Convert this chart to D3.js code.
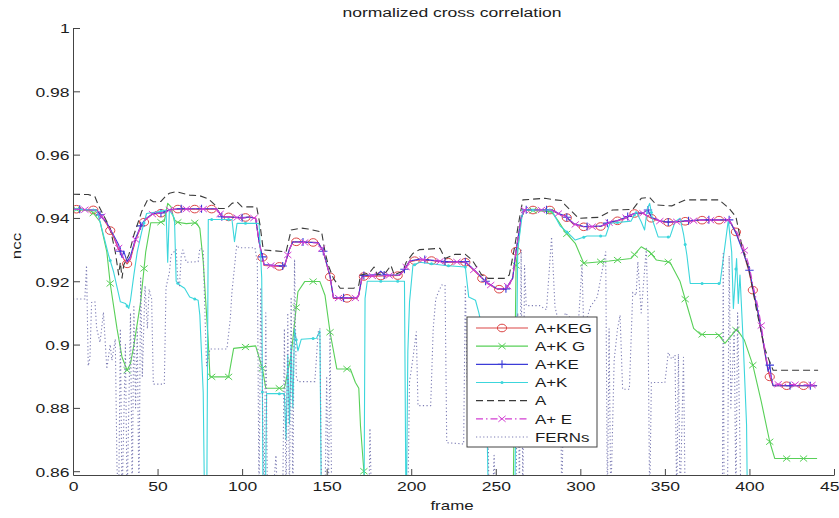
<!DOCTYPE html>
<html>
<head>
<meta charset="utf-8">
<script src="https://cdn.jsdelivr.net/npm/d3@7"></script>
<style>
  html, body { margin: 0; padding: 0; background: #fff; }
  svg { display: block; }
  text { font-family: "Liberation Sans", Arial, Helvetica, sans-serif; fill: #1c1c1c; }
</style>
</head>
<body>
<svg id="chart" width="839" height="518"></svg>
<script>
// ---- data: [frame, ncc] ----
const seriesNames = ["A+KEG", "A+K G", "A+KE", "A+K", "A", "A+ E", "FERNs"];
const xTicks = [0, 50, 100, 150, 200, 250, 300, 350, 400, 450];
const yTicks = [0.86, 0.88, 0.9, 0.92, 0.94, 0.96, 0.98, 1];

const akeg = [[0,0.9428],[14,0.9425],[17,0.9405],[20,0.938],[24,0.934],[27,0.930],[30,0.927],[32,0.9255],[34,0.927],[37,0.933],[40,0.937],[43,0.9395],[47,0.9412],[52,0.9415],[57,0.9425],[62,0.9428],[85,0.9428],[88,0.9405],[100,0.9400],[104,0.9403],[108,0.940],[110,0.9325],[113,0.9250],[125,0.9246],[128,0.930],[130,0.9325],[145,0.9322],[148,0.9293],[152,0.9214],[154,0.9146],[168,0.9146],[169,0.9156],[171,0.9215],[193,0.9218],[196,0.9235],[199,0.9262],[205,0.9268],[213,0.9265],[220,0.926],[232,0.926],[238,0.923],[242,0.9209],[245,0.9193],[251,0.9175],[256,0.9175],[260,0.9209],[262,0.9295],[265,0.9399],[267,0.9425],[283,0.9425],[288,0.941],[291,0.9406],[296,0.938],[302,0.9372],[312,0.9373],[317,0.9385],[322,0.9391],[327,0.940],[332,0.9414],[337,0.9415],[342,0.9399],[347,0.939],[352,0.9386],[372,0.9393],[388,0.9393],[392,0.9356],[396,0.930],[400,0.9225],[402,0.9172],[405,0.910],[407,0.904],[410,0.8946],[412,0.8898],[414,0.887],[440,0.887]];

const akg = [[0,0.9428],[11,0.9422],[16,0.9388],[20,0.9293],[22,0.9193],[26,0.9051],[29,0.896],[32,0.8919],[34,0.894],[36,0.8998],[40,0.9135],[43,0.9293],[46,0.9385],[51,0.9385],[54,0.939],[56,0.9446],[58,0.9435],[60,0.9388],[67,0.9382],[73,0.9385],[75,0.9367],[77,0.9262],[80,0.9009],[81,0.8898],[92,0.8898],[95,0.8988],[108,0.8996],[110,0.896],[112,0.8925],[114,0.8862],[125,0.8862],[129,0.8967],[133,0.9167],[137,0.9199],[146,0.9199],[149,0.9156],[152,0.9039],[156,0.8923],[164,0.8923],[167,0.888],[169,0.8862],[170,0.8743],[172,0.86],[174,0.84],[260,0.84],[262,0.925],[265,0.9399],[267,0.9425],[283,0.942],[287,0.939],[291,0.9356],[297,0.932],[302,0.9257],[317,0.9264],[330,0.9272],[336,0.9309],[341,0.9293],[345,0.9267],[353,0.926],[359,0.9199],[363,0.9125],[367,0.9051],[371,0.9032],[381.6,0.9032],[385.5,0.9004],[392.5,0.9049],[397,0.9014],[402,0.8935],[407,0.882],[412,0.8693],[415,0.864],[440,0.864]];

const ake = [[0,0.9428],[14,0.9425],[17,0.9402],[20,0.9385],[24,0.9345],[27,0.9315],[29,0.9275],[30,0.9295],[32,0.9262],[34,0.928],[37,0.9335],[40,0.9375],[43,0.9398],[47,0.9413],[52,0.9416],[57,0.9426],[62,0.9429],[85,0.9429],[88,0.9404],[100,0.9401],[104,0.9403],[108,0.9398],[110,0.9325],[113,0.9253],[125,0.9248],[128,0.9302],[130,0.9325],[145,0.9322],[148,0.9295],[152,0.9216],[154,0.9148],[168,0.9148],[169,0.9158],[171,0.9218],[180,0.9221],[182,0.9232],[184,0.922],[193,0.922],[196,0.9238],[199,0.9264],[205,0.927],[213,0.9266],[220,0.9262],[232,0.9262],[238,0.9232],[242,0.921],[245,0.9195],[251,0.9176],[256,0.9176],[260,0.921],[262,0.9297],[265,0.94],[267,0.9426],[283,0.9426],[288,0.9412],[291,0.9407],[296,0.9382],[302,0.9373],[312,0.9374],[317,0.9386],[322,0.9392],[327,0.9402],[332,0.9415],[337,0.9416],[340,0.9425],[342,0.9402],[347,0.9391],[352,0.9387],[372,0.9394],[388,0.9394],[392,0.9352],[396,0.9296],[400,0.9235],[402,0.918],[405,0.9105],[407,0.9045],[410,0.895],[411,0.8915],[412,0.8935],[413,0.8895],[414,0.887],[440,0.887]];

const ak = [[0,0.9428],[14,0.9425],[16,0.9388],[21,0.9283],[24,0.923],[28,0.9135],[31,0.913],[33,0.9114],[34,0.914],[36,0.922],[38,0.9293],[40.6,0.9356],[43.5,0.9414],[51,0.942],[55,0.9425],[56,0.926],[57,0.9425],[60,0.9399],[61,0.92],[63,0.9188],[66,0.9178],[69,0.915],[72,0.9144],[74,0.914],[75,0.9093],[77,0.8849],[78,0.84],[79,0.84],[80,0.9395],[94,0.9395],[95.5,0.9325],[97,0.9383],[110,0.9383],[111.6,0.921],[112.5,0.84],[113.5,0.84],[114.5,0.8845],[125,0.8845],[126,0.87],[127,0.8967],[128,0.875],[129,0.9],[130,0.88],[131,0.905],[133,0.898],[135,0.9017],[144,0.902],[146,0.9044],[147,0.84],[172,0.84],[172.7,0.9146],[174,0.920],[196,0.920],[197,0.84],[198,0.8977],[199,0.9135],[201,0.925],[205,0.926],[220,0.925],[232,0.9245],[234,0.915],[238,0.914],[240,0.910],[242,0.905],[244,0.898],[246,0.84],[261,0.84],[263,0.93],[266,0.9425],[283,0.9425],[288,0.9375],[293,0.9351],[297,0.933],[304,0.9343],[315,0.9343],[317.5,0.9383],[330,0.9390],[333,0.942],[336,0.9388],[338,0.9362],[339.6,0.943],[341,0.9446],[343,0.9388],[346,0.934],[353,0.934],[356,0.9388],[359,0.9399],[361,0.935],[363,0.9283],[365,0.9193],[382.6,0.9193],[387.5,0.9393],[389.5,0.9293],[390.5,0.9114],[392.4,0.9272],[393.4,0.913],[394.4,0.922],[396.3,0.9009],[398.3,0.8746],[399,0.84],[440,0.84]];

const aOnly = [[0,0.9475],[9,0.9474],[13,0.9467],[15,0.944],[18,0.9409],[22,0.9367],[25,0.9293],[27,0.922],[28,0.926],[29,0.921],[30,0.9251],[33,0.9283],[36,0.9346],[40.6,0.942],[44.5,0.9462],[47.5,0.9451],[52,0.9452],[55,0.947],[57,0.9478],[61,0.9483],[69,0.9472],[75,0.947],[80,0.946],[82,0.9451],[86,0.943],[91,0.943],[94,0.9446],[97,0.9451],[100,0.9435],[108.6,0.9435],[110.6,0.9378],[112.5,0.9299],[126,0.9293],[129,0.9362],[135,0.9368],[139,0.9365],[147,0.9356],[149,0.9293],[151,0.925],[154,0.9209],[158,0.9178],[166,0.9178],[169,0.9188],[170,0.922],[175,0.9225],[178,0.9245],[180,0.922],[185,0.9228],[188,0.925],[190,0.922],[195,0.9232],[197,0.926],[201,0.9288],[205,0.9300],[217,0.9304],[220,0.9272],[226,0.9285],[232,0.9285],[236,0.9267],[241.7,0.922],[245.6,0.9209],[255,0.9209],[258,0.922],[261,0.9304],[264,0.9399],[266,0.9457],[279,0.9462],[285,0.9457],[289,0.9455],[291,0.9441],[295,0.942],[299,0.9399],[311,0.9402],[319,0.9425],[331,0.9427],[336,0.9462],[341,0.9465],[345,0.9441],[354,0.9438],[362,0.9457],[382,0.9457],[388,0.9430],[392,0.9404],[395,0.9325],[400,0.923],[404,0.9114],[409,0.8988],[412,0.8945],[414,0.8919],[440.6,0.8919]];

const ae = [[0,0.9428],[14,0.9424],[17,0.9404],[20,0.9382],[24,0.9342],[27,0.9305],[30,0.9272],[32,0.9258],[34,0.9272],[37,0.9332],[40,0.9372],[43,0.9396],[47,0.9412],[52,0.9416],[57,0.9425],[62,0.9428],[85,0.9428],[88,0.9405],[100,0.9400],[104,0.9402],[108,0.9399],[110,0.9325],[113,0.9251],[125,0.9247],[128,0.9301],[130,0.9324],[145,0.9321],[148,0.9294],[152,0.9215],[154,0.9147],[168,0.9147],[169,0.9157],[171,0.9216],[193,0.9219],[196,0.9236],[199,0.9263],[205,0.9269],[213,0.9266],[220,0.9261],[232,0.9261],[238,0.9231],[242,0.921],[245,0.9194],[251,0.9176],[256,0.9176],[260,0.921],[262,0.9296],[265,0.94],[267,0.9425],[283,0.9425],[288,0.9411],[291,0.9406],[296,0.9381],[302,0.9372],[312,0.9373],[317,0.9385],[322,0.9391],[327,0.9401],[332,0.9414],[337,0.9415],[342,0.94],[347,0.939],[352,0.9386],[372,0.9393],[388,0.9393],[392,0.9362],[396,0.9315],[400,0.9245],[402,0.919],[405,0.912],[407,0.906],[410,0.8955],[412,0.891],[414,0.8875],[440,0.8872]];

const ferns = [[0,0.9144],[7,0.9144],[8,0.925],[9,0.8933],[10,0.8956],[11,0.9133],[13,0.9135],[14,0.905],[16,0.9007],[18,0.9102],[20,0.8923],[22,0.90],[23,0.895],[25,0.9017],[26,0.8617],[27,0.85],[28,0.905],[29,0.85],[31,0.90],[32,0.85],[34,0.91],[35,0.85],[36,0.912],[37,0.88],[38,0.905],[39,0.85],[40,0.921],[41,0.89],[42.6,0.9186],[44,0.905],[45,0.9175],[46.5,0.9144],[47.5,0.8875],[54,0.8875],[55,0.918],[57,0.9228],[58,0.9283],[61,0.93],[62,0.92],[63,0.9186],[64,0.928],[65,0.9299],[67,0.926],[74,0.9262],[75,0.9304],[77,0.930],[78,0.91],[79,0.8933],[81,0.8986],[91,0.8986],[93,0.9081],[94,0.9167],[96.8,0.9314],[98,0.9306],[107.6,0.9306],[109,0.926],[110,0.85],[111,0.918],[112,0.885],[113,0.85],[114,0.91],[115,0.85],[118,0.85],[120,0.865],[121,0.85],[124,0.85],[125,0.905],[126,0.85],[127,0.91],[128,0.85],[129,0.915],[130,0.85],[131,0.927],[132,0.89],[133,0.8883],[143,0.8883],[145,0.904],[146,0.905],[147,0.85],[149,0.85],[150,0.89],[151,0.85],[152,0.904],[153,0.85],[175,0.85],[175.6,0.8735],[176.5,0.85],[198,0.85],[199,0.8883],[201,0.8956],[203,0.904],[204,0.8807],[211.5,0.8807],[213,0.905],[214.5,0.9144],[216,0.9165],[218,0.9188],[220,0.9188],[221,0.869],[231,0.8686],[232,0.9188],[233,0.89],[234.7,0.8682],[245.6,0.868],[246,0.85],[248,0.85],[249,0.865],[250,0.85],[262,0.85],[263,0.91],[264,0.85],[265,0.93],[266,0.85],[267,0.925],[268,0.9123],[276,0.9123],[280,0.911],[283,0.934],[285,0.912],[288,0.905],[289,0.85],[291,0.91],[295,0.908],[299,0.908],[301,0.9251],[302,0.905],[306,0.912],[310,0.915],[315,0.9293],[316,0.85],[317,0.905],[318,0.85],[320,0.895],[322,0.905],[323.5,0.9093],[325,0.8859],[329,0.8859],[331,0.9165],[333,0.9156],[334,0.9262],[336,0.91],[339,0.9304],[340,0.91],[341,0.85],[342,0.888],[350,0.888],[352,0.8975],[354,0.8954],[356,0.8967],[357,0.85],[358,0.897],[359,0.85],[361,0.896],[362,0.85],[384,0.85],[384.5,0.9293],[385,0.85],[387,0.85],[388,0.928],[389,0.88],[391,0.905],[392,0.85],[393,0.91],[395,0.85],[440,0.85]];

// ---- layout ----
const W = 839, H = 518;
const plot = { left: 73, right: 834, top: 28, bottom: 475 };
const SX = 1.3; // horizontal text stretch

const svg = d3.select("#chart");
svg.append("rect").attr("width", W).attr("height", H).attr("fill", "#fff");

const x = d3.scaleLinear().domain([0, 450]).range([plot.left, plot.right]);
const y = d3.scaleLinear().domain([0.8588, 1]).range([plot.bottom, plot.top]);

svg.append("clipPath").attr("id", "plotClip")
  .append("rect")
  .attr("x", plot.left).attr("y", plot.top)
  .attr("width", plot.right - plot.left).attr("height", plot.bottom - plot.top);

// ---- series styles ----
const styles = [
  { data: akeg, color: "#dc4646", dash: null,            marker: "circle", every: [2, 10] },
  { data: akg,  color: "#58d058", dash: null,            marker: "x",      every: [2, 10] },
  { data: ake,  color: "#3c3cd8", dash: null,            marker: "plus",   every: [4, 12] },
  { data: ak,   color: "#3cd6dc", dash: null,            marker: "dot",    every: [2, 10] },
  { data: aOnly,color: "#3a3a3a", dash: "7,4",           marker: null },
  { data: ae,   color: "#d23ed2", dash: "7,3,1.5,3",     marker: "x",      every: [7, 10] },
  { data: ferns,color: "#7c7cb4", dash: "1.2,2.4",       marker: null }
];

function drawMarker(g, kind, cx, cy, color) {
  if (kind === "circle") {
    g.append("ellipse").attr("cx", cx).attr("cy", cy).attr("rx", 4.6).attr("ry", 3.8)
      .attr("fill", "none").attr("stroke", color).attr("stroke-width", 1);
  } else if (kind === "x") {
    g.append("path").attr("d", `M${cx-3.6},${cy-3}L${cx+3.6},${cy+3}M${cx-3.6},${cy+3}L${cx+3.6},${cy-3}`)
      .attr("stroke", color).attr("stroke-width", 1).attr("fill", "none");
  } else if (kind === "plus") {
    g.append("path").attr("d", `M${cx-4.2},${cy}H${cx+4.2}M${cx},${cy-4}V${cy+4}`)
      .attr("stroke", color).attr("stroke-width", 1.1).attr("fill", "none");
  } else if (kind === "dot") {
    g.append("circle").attr("cx", cx).attr("cy", cy).attr("r", 1.5).attr("fill", color);
  }
}

const line = d3.line().x(d => x(d[0])).y(d => y(d[1]));
const plotG = svg.append("g").attr("clip-path", "url(#plotClip)");

styles.forEach(s => {
  const path = plotG.append("path")
    .datum(s.data)
    .attr("d", line)
    .attr("fill", "none")
    .attr("stroke", s.color)
    .attr("stroke-width", 1.1)
    .attr("stroke-linejoin", "round");
  if (s.dash) path.attr("stroke-dasharray", s.dash);
  if (s.marker) {
    // markers sit on the polyline at regular frame intervals
    const along = d3.scaleLinear().domain(s.data.map(d => d[0])).range(s.data.map(d => d[1]));
    const last = s.data[s.data.length - 1][0];
    d3.range(s.every[0], last + 0.001, s.every[1]).forEach(f => {
      drawMarker(plotG, s.marker, x(f), y(along(f)), s.color);
    });
  }
});

// ---- axes ----
const axisColor = "#444";
const yAxis = d3.axisLeft(y).tickValues(yTicks).tickSize(-7).tickSizeOuter(0).tickPadding(2.6)
  .tickFormat(d => d3.format("")(+d.toFixed(2)));
const xAxis = d3.axisBottom(x).tickValues(xTicks).tickSize(-6).tickSizeOuter(0).tickPadding(6.5);

const gy = svg.append("g").attr("transform", `translate(${plot.left},0)`).call(yAxis);
const gx = svg.append("g").attr("transform", `translate(0,${plot.bottom})`).call(xAxis);

[gy, gx].forEach(g => {
  g.select(".domain").attr("stroke", axisColor).attr("stroke-width", 1);
  g.selectAll(".tick line").attr("stroke", axisColor).attr("stroke-width", 1);
  g.selectAll(".tick text")
    .attr("fill", "#1c1c1c")
    .style("font-family", '"Liberation Sans", Arial, sans-serif')
    .style("font-size", "13.5px")
    .attr("transform", `scale(${SX},1)`);
});
gx.selectAll(".tick text").attr("dy", "0.72em");
gy.selectAll(".tick text").attr("dy", "0.36em");

// ---- text helpers ----
function label(txt, tx, ty, size, anchor, rot) {
  const t = svg.append("text")
    .attr("transform", `translate(${tx},${ty})${rot ? ` rotate(${rot})` : ""} scale(${SX},1)`)
    .attr("text-anchor", anchor)
    .style("font-size", size + "px")
    .text(txt);
  return t;
}

label("normalized cross correlation", 452, 16.5, 13.5, "middle");
label("frame", 452, 509.5, 13, "middle");
label("ncc", 21, 246, 13, "middle", -90);

// ---- legend ----
const lg = svg.append("g");
lg.append("rect").attr("x", 467).attr("y", 317).attr("width", 130).attr("height", 130)
  .attr("fill", "#fff").attr("stroke", axisColor).attr("stroke-width", 1);
const rowY = d3.scaleLinear().domain([0, 6]).range([328, 437]);
styles.forEach((s, i) => {
  const yy = rowY(i);
  const l = lg.append("line").attr("x1", 476).attr("x2", 528).attr("y1", yy).attr("y2", yy)
    .attr("stroke", s.color).attr("stroke-width", 1.1);
  if (s.dash) l.attr("stroke-dasharray", s.dash);
  if (s.marker) drawMarker(lg, s.marker, 502, yy, s.color);
  lg.append("text")
    .attr("transform", `translate(535,${yy + 4.8}) scale(${SX},1)`)
    .style("font-size", "13px")
    .text(seriesNames[i]);
});
</script>
</body>
</html>
